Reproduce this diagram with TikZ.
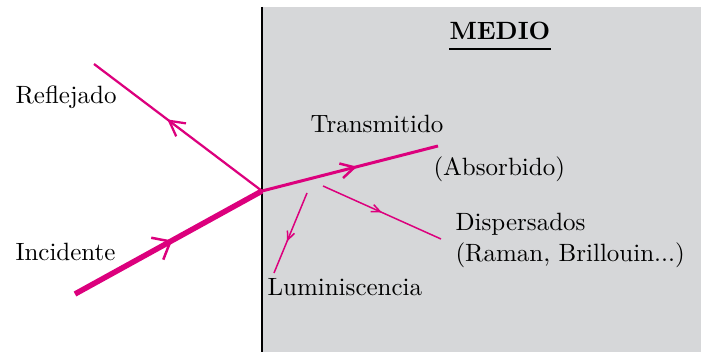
\documentclass[tikz,border=0pt]{standalone}
\usetikzlibrary{arrows.meta, decorations.markings}
\definecolor{rosa}{RGB}{220,0,125}
\definecolor{gris}{RGB}{214,215,217}
\tikzset{
	rayo/.style={draw=rosa, line width=#1},
	flecha/.style 2 args={postaction={decorate},
		decoration={markings, mark=at position #1 with {\arrow{Straight Barb[#2]}}}},
	etiqueta/.style={anchor=base west, inner sep=0pt}
}

\begin{document}
\begin{tikzpicture}[x=0.4pt, y=-0.4pt]
	\useasboundingbox (0,0) rectangle (701,352);
	\fill[gris] (262,7) rectangle (701,352);
	\draw[line width=0.9pt] (262,7) -- (262,352);
	
	\coordinate (O) at (262,191);
	\coordinate (inc) at (75,294);
	\coordinate (ref) at (94,64);
	\coordinate (tra) at (438,146);
	\coordinate (lumA) at (307,193);
	\coordinate (lumB) at (274,273);
	\coordinate (disA) at (323,186);
	\coordinate (disB) at (441,239);
	
	\draw[rayo=2.2pt, flecha={0.52}{length=6pt, width=10pt, line width=1pt}] (inc) -- (O);
	\draw[rayo=0.9pt, flecha={0.565}{length=6pt, width=6.5pt}] (O) -- (ref);
	\draw[rayo=1.2pt, flecha={0.54}{length=5.5pt, width=6pt, line width=1pt}] (O) -- (tra);
	\draw[rayo=0.6pt, flecha={0.61}{length=3.5pt, width=3pt}] (lumA) -- (lumB);
	\draw[rayo=0.6pt, flecha={0.5}{length=3.5pt, width=3pt}] (disA) -- (disB);
	
	\node[etiqueta] (reflejado) at (15,104) {Reflejado};
	\node[etiqueta] (incidente) at (15,261) {Incidente};
	\node[etiqueta] (transmitido) at (310,133) {Transmitido};
	\node[etiqueta] (absorbido) at (433,176) {(Absorbido)};
	\node[etiqueta] (dispersados) at (455,231) {Dispersados};
	\node[etiqueta] (raman) at (455,262) {(Raman, Brillouin...)};
	\node[etiqueta] (lumin) at (267,296) {Luminiscencia};
	
	\node[etiqueta] (medio) at (449,40) {\textbf{MEDIO}};
	\draw[line width=0.5pt] ([yshift=-3.6pt]medio.base west) -- ([yshift=-3.6pt]medio.base east);
\end{tikzpicture}
\end{document}
